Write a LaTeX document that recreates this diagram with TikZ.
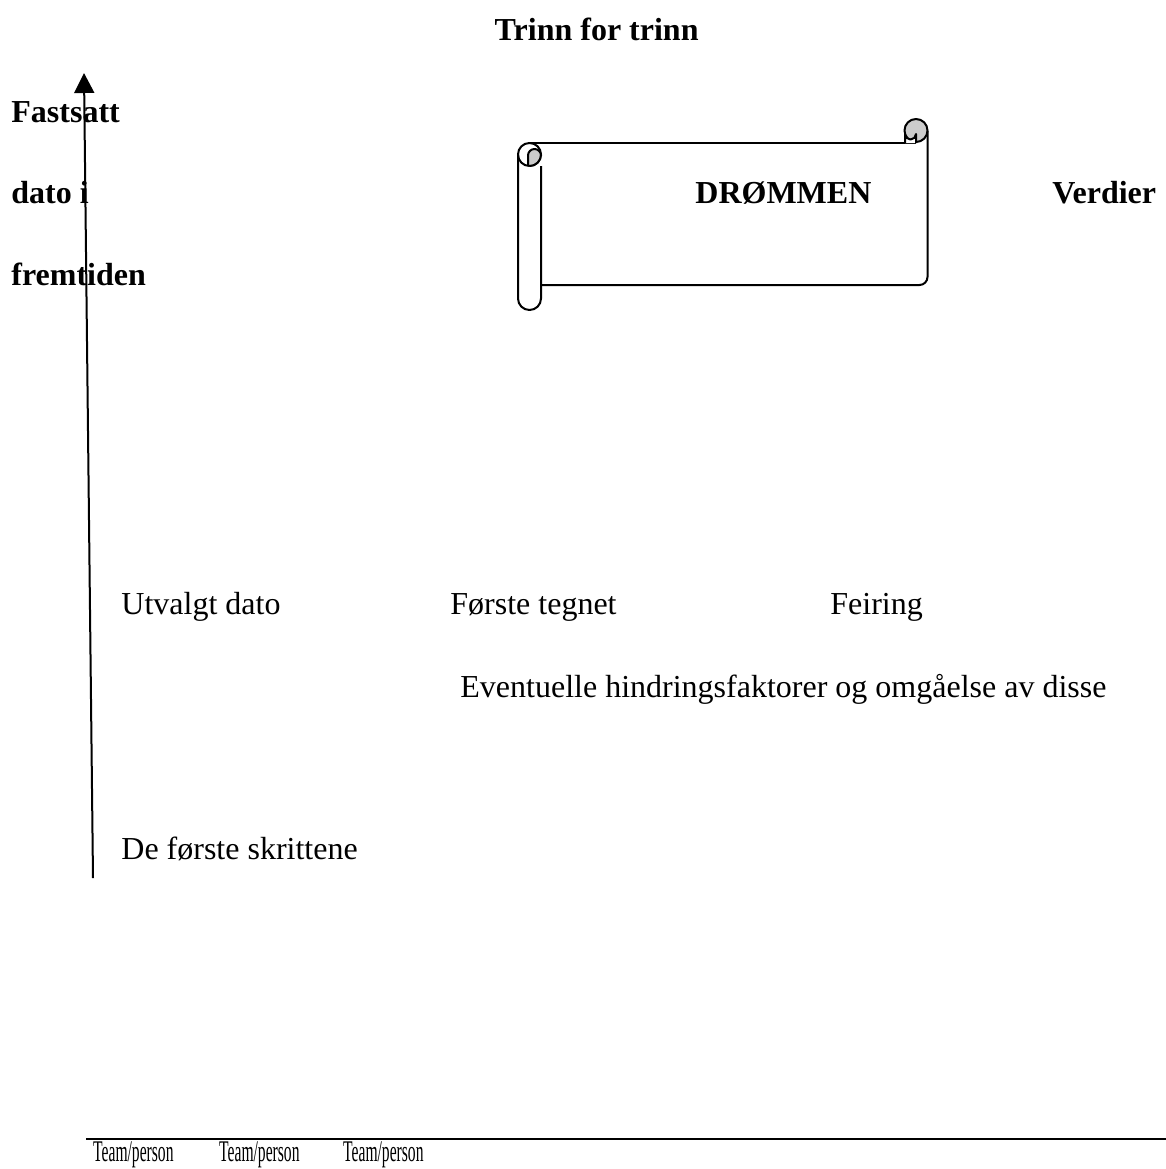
\documentclass[tikz,border=0pt]{standalone}
\usepackage{fontspec}
\setmainfont{Liberation Serif}
\usetikzlibrary{arrows.meta}
\tikzset{
  txt/.style={anchor=base west,inner sep=0pt,font=\fontsize{16}{19}\selectfont},
  bold/.style={txt,font=\fontsize{16}{19}\selectfont\bfseries},
  team/.style={txt,font=\fontsize{15}{18}\selectfont,xscale=0.52,transform shape},
  scroll/.style={line width=1pt,line join=round}
}
\begin{document}
\begin{tikzpicture}[x=0.5pt,y=-0.5pt]
                \clip (0,0) rectangle (1166,1169);
                % title and the time axis
                \node[bold,anchor=base east] (title) at (699,40) {Trinn for trinn};
                \coordinate (axisbottom) at (93,878);
                \coordinate (axistop) at (84,73);
                \draw[line width=1pt,-{Triangle[length=10pt,width=10pt]}] (axisbottom) -- (axistop);
                \node[bold] (fast) at (11,122) {Fastsatt};
                \node[bold] (dato) at (11,203) {dato i};
                \node[bold] (frem) at (11,285) {fremtiden};
                % the scroll
                \draw[scroll,fill=white] (541,166) -- (541,298.5) arc[start angle=0,end angle=180,radius=11.5] -- (518,154.5);
                \draw[scroll] (529.5,154.5) circle[radius=11.5];
                \draw[scroll,fill=gray!40] (528,166) -- (528,155.5) arc[start angle=180,end angle=360,radius=6.5] -- (541,154.5) arc[start angle=0,end angle=90,radius=11.5];
                \draw[scroll] (529.5,143) -- (916,143);
                \draw[scroll] (541,285) -- (919.5,285) arc[start angle=90,end angle=0,radius=8] -- (927.5,130.5);
                \draw[scroll,fill=gray!40] (916,130.5) circle[radius=11.5];
                \draw[scroll,fill=white] (905,143) -- (905,134) arc[start angle=180,end angle=0,radius=5.5] -- (916,143);
                \node[bold] (drom) at (695,203) {DRØMMEN};
                \node[bold] (verd) at (1052,203) {Verdier};
                % the steps
                \node[txt] (utv) at (121,614) {Utvalgt dato};
                \node[txt] (forste) at (450,614) {Første tegnet};
                \node[txt] (feir) at (830,614) {Feiring};
                \node[txt] (hind) at (460,697) {Eventuelle hindringsfaktorer og omgåelse av disse};
                \node[txt] (skritt) at (121,859) {De første skrittene};
                \draw[line width=1pt] (86,1139) -- (1166,1139);
                \node[team] (team1) at (93,1161) {Team/person};
                \node[team] (team2) at (219,1161) {Team/person};
                \node[team] (team3) at (343,1161) {Team/person};
            \end{tikzpicture}
\end{document}
